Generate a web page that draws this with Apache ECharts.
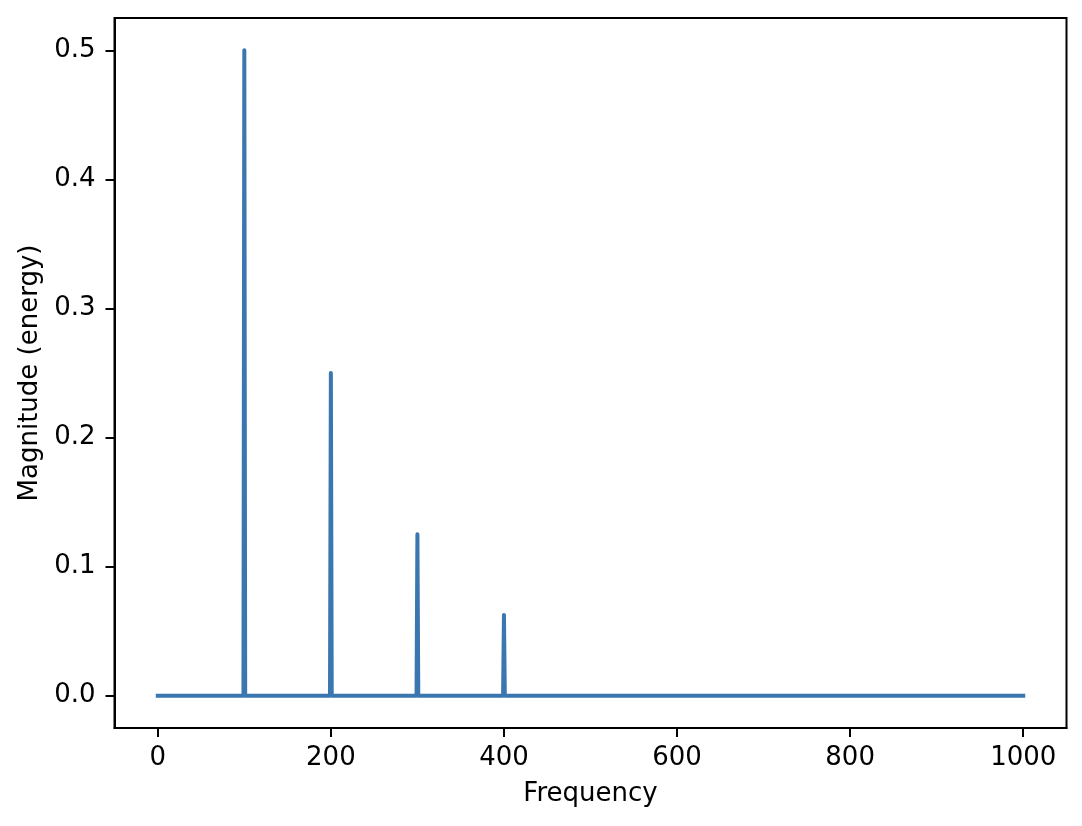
<!DOCTYPE html>
<html>
<head>
<meta charset="utf-8">
<script src="https://cdn.jsdelivr.net/npm/echarts@6/dist/echarts.min.js"></script>
<style>
html,body{margin:0;padding:0;background:#fff;}
#chart{width:1082px;height:826px;}
</style>
</head>
<body>
<div id="chart"></div>
<script>
// Spectrum samples (frequency, magnitude)
const frequency = [0, 99, 100, 101, 199, 200, 201, 299, 300, 301, 399, 400, 401, 1000];
const magnitude = [0, 0, 0.5, 0, 0, 0.25, 0, 0, 0.125, 0, 0, 0.0625, 0, 0];
const xTicks = [0, 200, 400, 600, 800, 1000];
const yTicks = [0.0, 0.1, 0.2, 0.3, 0.4, 0.5];

const data = frequency.map((f, i) => [f, magnitude[i]]);
const font = 'DejaVu Sans';
const fs = 26;
const chart = echarts.init(document.getElementById('chart'), null, {renderer: 'canvas'});
chart.setOption({
  animation: false,
  backgroundColor: '#fff',
  grid: {left: 114.5, right: 15.5, top: 18, bottom: 98, show: true, borderColor: '#000', borderWidth: 2, containLabel: false},
  xAxis: {
    type: 'value', min: -50, max: 1050,
    name: 'Frequency', nameLocation: 'middle', nameGap: 53,
    nameTextStyle: {fontFamily: font, fontSize: fs, color: '#000'},
    axisLine: {show: true, onZero: false, lineStyle: {color: '#000', width: 2}},
    axisTick: {show: true, inside: false, length: 9, lineStyle: {color: '#000', width: 2}, customValues: xTicks},
    axisLabel: {show: true, margin: 17, fontFamily: font, fontSize: fs, color: '#000', customValues: xTicks, formatter: v => String(v)},
    splitLine: {show: false}
  },
  yAxis: {
    type: 'value', min: -0.025, max: 0.525,
    name: 'Magnitude (energy)', nameLocation: 'middle', nameGap: 71, nameRotate: 90,
    nameTextStyle: {fontFamily: font, fontSize: fs, color: '#000'},
    axisLine: {show: true, onZero: false, lineStyle: {color: '#000', width: 2}},
    axisTick: {show: true, inside: false, length: 9, lineStyle: {color: '#000', width: 2}, customValues: yTicks},
    axisLabel: {show: true, margin: 19, fontFamily: font, fontSize: fs, color: '#000', customValues: yTicks, formatter: v => v.toFixed(1)},
    splitLine: {show: false}
  },
  series: [{
    type: 'line', data: data, showSymbol: false, symbol: 'none',
    lineStyle: {color: '#3a76b0', width: 4, join: 'round', cap: 'square'},
    itemStyle: {color: '#3a76b0'}
  }]
});
</script>
</body>
</html>
